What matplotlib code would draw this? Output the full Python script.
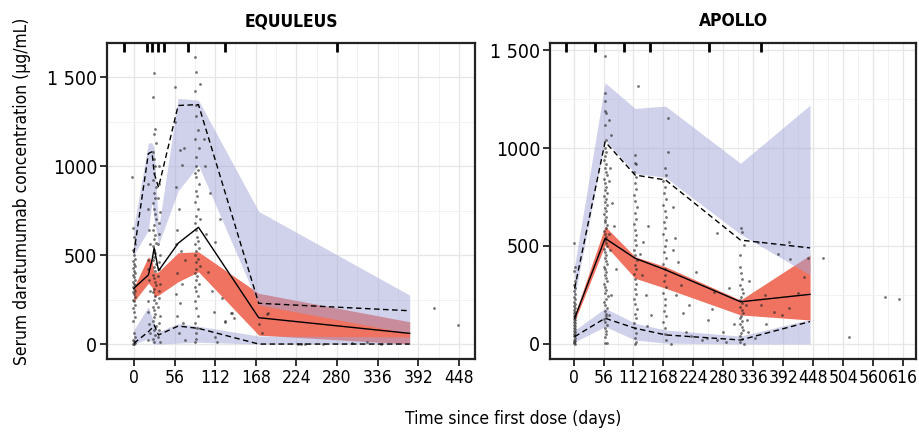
import numpy as np
import matplotlib
matplotlib.use("Agg")
import matplotlib.pyplot as plt
from matplotlib import font_manager as fm
from matplotlib.ticker import FixedLocator

# pick a condensed sans if one is installed, else Roboto, else DejaVu
narrow = None
for f in fm.fontManager.ttflist:
    if ('Narrow' in f.name or 'Condensed' in f.name
            or str(f.stretch) in ('condensed', 'semi-condensed')):
        if f.weight in (400, 'normal', 'regular', 'book'):
            narrow = f
            break
if narrow is not None:
    plt.rcParams['font.family'] = [narrow.name, 'DejaVu Sans']
    plt.rcParams['font.stretch'] = narrow.stretch
    FS_X, FS_Y, FS_LAB = 12.5, 14, 12.5
else:
    plt.rcParams['font.family'] = ['Roboto', 'DejaVu Sans']
    FS_X, FS_Y, FS_LAB = 11, 12.5, 12

# ---------------- EQUULEUS ----------------
eq_bins = [0, 20, 25, 28, 34, 61, 89, 172, 380]
eq_median = [313, 388, 472, 540, 412, 566, 656, 148, 60]
eq_p95 = [510, 1070, 1080, 960, 880, 1340, 1345, 229, 187]
eq_p05 = [4, 69, 90, 107, 51, 101, 88, 0, 0]
eq_med_lo = [238, 342, 320, 266, 275, 350, 406, 50, 0]
eq_med_hi = [318, 490, 470, 400, 406, 513, 518, 285, 125]
eq_hi_lo = [500, 640, 800, 700, 560, 860, 1005, 220, 60]
eq_hi_hi = [660, 1130, 1130, 1100, 650, 1380, 1370, 745, 275]
eq_lo_lo = [0, 30, 10, 0, 0, 5, 10, 0, 0]
eq_lo_hi = [80, 210, 150, 110, 70, 115, 100, 45, 40]
eq_doses = [-13, 18, 25, 33, 42, 74, 125, 280]

eq_obs_day = (
    [0, -1, 1, 0, -1, 1, 0, -1, 1, 0, -1, 1, 0, -1, 1, 0, -1, 1, 0, -1,
     1, 0, -1, 1, 0, -1, 1, 0, -1, 1, 0, -1, 1, 0, -1, 1, 0, -1, -3]
    + [19, 20, 21, 22, 19, 20, 21, 22, 19, 20, 21, 22, 20]
    + [28, 27, 29, 28, 30, 27, 28, 29, 28, 27, 30, 28, 29, 27, 28, 29, 30,
       28, 27, 29, 28, 30, 27, 28, 29, 28, 27, 30, 28, 29, 27, 28, 29, 30,
       28, 27, 29, 28, 30, 27, 28, 29, 28, 27, 30, 28, 29, 27, 28]
    + [34, 35, 33, 36, 34, 35, 33, 36, 34, 35, 33, 36, 34, 35, 33, 36, 34,
       35, 33, 36]
    + [56, 57, 63, 69, 66, 58, 62, 60, 58, 65, 70, 60, 66, 58, 64, 60, 68,
       62, 70]
    + [84, 85, 91, 84, 85, 86, 88, 84, 90, 86, 85, 88, 84, 86, 90, 85, 87,
       84, 88, 86, 91, 84, 85, 87, 89, 84, 90, 86, 84, 88, 85, 91, 86, 84,
       87, 85, 90, 84, 86, 88, 84, 85, 89, 84, 87, 85, 86, 84]
    + [96, 98, 105, 100, 102, 112, 108, 110, 112, 115, 118, 126, 125, 134,
       135, 138, 122]
    + [172, 176, 183, 185, 226, 230, 236, 321, 340, 413, 447, 300, 260]
)
eq_obs_conc = (
    [0, 3, 8, 15, 25, 40, 60, 130, 150, 180, 200, 220, 240, 250, 265, 280,
     290, 300, 310, 320, 330, 340, 350, 360, 375, 390, 400, 410, 425, 440,
     450, 465, 480, 500, 530, 560, 600, 650, 940]
    + [900, 760, 640, 560, 470, 420, 360, 300, 240, 180, 110, 60, 20]
    + [1520, 1390, 1210, 1180, 1130, 1080, 1040, 1000, 960, 920, 880, 850,
       820, 790, 760, 730, 700, 670, 640, 610, 590, 570, 550, 530, 510, 490,
       470, 450, 430, 410, 390, 370, 350, 330, 310, 290, 270, 250, 230, 210,
       190, 170, 150, 130, 100, 80, 50, 30, 10]
    + [1000, 900, 820, 740, 680, 620, 560, 500, 460, 420, 380, 340, 300,
       260, 210, 160, 120, 80, 40, 10]
    + [1445, 1245, 1090, 1100, 1005, 880, 760, 640, 560, 520, 470, 400, 340,
       280, 230, 160, 120, 60, 20]
    + [1614, 1530, 1460, 1420, 1343, 1280, 1200, 1150, 1100, 1050, 1000,
       980, 960, 940, 900, 860, 830, 800, 760, 720, 700, 680, 640, 600, 580,
       560, 540, 520, 500, 480, 460, 440, 420, 400, 380, 360, 340, 320, 300,
       270, 240, 200, 160, 120, 90, 60, 30, 10]
    + [1150, 1000, 850, 620, 406, 575, 300, 180, 40, 13, 700, 125, 131, 172,
       174, 146, 260]
    + [110, 60, 168, 174, 0, 0, 2, 13, 0, 200, 107, 5, 3]
)

# ---------------- APOLLO ----------------
ap_bins = [2, 59, 115, 172, 312, 442]
ap_median = [131, 539, 437, 378, 215, 253]
ap_p95 = [284, 1032, 862, 837, 530, 490]
ap_p05 = [37, 131, 80, 46, 20, 114]
ap_med_lo = [115, 505, 335, 284, 148, 122]
ap_med_hi = [148, 600, 445, 394, 224, 454]
ap_hi_lo = [240, 1041, 870, 850, 560, 352]
ap_hi_hi = [400, 1333, 1202, 1214, 922, 1219]
ap_lo_lo = [10, 88, 20, 4, 0, 0]
ap_lo_hi = [70, 182, 106, 71, 40, 125]
ap_doses = [-14, 41, 95, 142, 254, 351]

ap_obs_day = (
    [1, 2, 0, 3, 1, 2, 0, 3, 1, 2, 0, 3, 1, 2, 0, 3, 1, 2, 0, 3, 1, 2, 0,
     3, 1, 2, 0, 3, 1, 2, 0, 3, 1, 2, 0, 3, 1, 2, 0]
    + [58, 59, 58, 58, 60, 67, 59, 70, 61, 58, 60, 59, 57, 61, 58, 60, 62,
       57, 59, 61, 58, 63, 57, 60, 59, 62, 58, 60, 57, 61, 59, 58, 62, 60,
       57, 59, 61, 58, 60, 62, 57, 59, 61, 58, 60, 63, 57, 59, 61, 58, 60,
       62, 57, 59, 61, 58, 64, 60, 57, 59, 62, 58, 60, 61, 57, 59, 62, 58,
       60, 61, 59, 58, 62, 72, 75, 68, 80, 70, 66, 66, 68, 66]
    + [121, 114, 115, 116, 113, 117, 114, 116, 113, 115, 118, 114, 116, 113,
       115, 117, 114, 116, 113, 115, 118, 114, 116, 113, 115, 117, 114, 116,
       113, 115, 118, 114, 116, 113, 115, 117, 114, 116, 115, 125, 130, 128,
       140, 135, 145, 138]
    + [177, 177, 170, 172, 168, 171, 169, 172, 168, 170, 173, 169, 171, 168,
       172, 170, 169, 173, 168, 171, 170, 169, 172, 168, 171, 170, 169, 173,
       168, 171, 170, 172, 182, 186, 190, 195, 200, 205, 210, 185, 192]
    + [229, 269, 291, 251, 240, 263, 269, 280, 300, 220, 250, 285, 215, 258]
    + [313, 314, 318, 311, 311, 313, 315, 312, 314, 316, 313, 311, 315, 312,
       314, 316, 313, 311, 315, 312, 314, 316, 313, 311, 315, 312, 318, 322,
       324, 326, 328]
    + [358, 374, 402, 402, 382, 405, 430, 439, 466, 515, 582, 609, 340, 350,
       390, 420, 345, 360]
)
ap_obs_conc = (
    [514, 394, 370, 320, 300, 285, 270, 255, 240, 228, 215, 205, 195, 185,
     175, 165, 158, 150, 142, 135, 128, 120, 112, 105, 98, 90, 82, 75, 68,
     60, 52, 45, 38, 30, 22, 15, 8, 0, 3]
    + [1471, 1279, 1240, 1190, 1180, 1143, 1117, 1066, 1040, 1000, 980, 960,
       940, 920, 900, 880, 860, 840, 820, 800, 785, 770, 755, 740, 725, 710,
       695, 680, 665, 650, 635, 620, 605, 590, 575, 560, 545, 530, 515, 500,
       485, 470, 455, 440, 425, 410, 395, 380, 365, 350, 335, 320, 305, 290,
       275, 260, 245, 230, 215, 200, 185, 170, 155, 140, 125, 110, 95, 80,
       65, 50, 35, 5, 3, 720, 600, 480, 380, 250, 150, 830, 900, 560]
    + [1316, 964, 925, 920, 880, 850, 820, 790, 760, 730, 700, 670, 640, 610,
       580, 555, 530, 505, 480, 455, 430, 405, 380, 355, 330, 305, 280, 255,
       230, 205, 180, 155, 130, 105, 80, 55, 30, 10, 0, 460, 520, 350, 600,
       250, 150, 90]
    + [1155, 981, 900, 860, 830, 800, 770, 740, 710, 680, 650, 620, 590, 560,
       530, 500, 470, 440, 410, 380, 350, 320, 290, 260, 230, 200, 170, 140,
       110, 80, 50, 20, 0, 700, 540, 420, 300, 160, 60, 480, 250]
    + [369, 565, 284, 122, 20, 267, 20, 60, 100, 40, 30, 10, 200, 180]
    + [590, 570, 505, 454, 394, 360, 330, 300, 280, 260, 240, 225, 210, 190,
       175, 160, 145, 130, 115, 100, 85, 70, 55, 40, 25, 10, 0, 200, 120, 60,
       320]
    + [250, 165, 182, 522, 459, 432, 343, 437, 437, 37, 241, 230, 30, 200,
       150, 260, 520, 100]
)

RED = '#EF7360'
BLUE = '#A3A6D8'


def draw_panel(ax, bins, med, p95, p05, mlo, mhi, hlo, hhi, llo, lhi,
               days, conc, doses, xmax_ticks, xlim, ylim, title):
    ax.fill_between(bins, mlo, mhi, color=RED, lw=0, zorder=1)
    ax.fill_between(bins, hlo, hhi, color=BLUE, alpha=0.5, lw=0, zorder=1.5)
    ax.fill_between(bins, llo, lhi, color=BLUE, alpha=0.5, lw=0, zorder=1.5)
    ax.scatter(days, conc, s=4, color='#2a2a2a', alpha=0.65, lw=0, zorder=2)
    ax.plot(bins, med, color='black', lw=1.0, zorder=3)
    ax.plot(bins, p95, color='black', lw=1.0, ls=(0, (4, 2.5)), zorder=3)
    ax.plot(bins, p05, color='black', lw=1.0, ls=(0, (4, 2.5)), zorder=3)
    ax.vlines(doses, 0.972, 1.0, transform=ax.get_xaxis_transform(),
              color='black', lw=2, zorder=4, clip_on=False)

    ax.set_xlim(*xlim)
    ax.set_ylim(*ylim)
    xt = np.arange(0, xmax_ticks + 1, 56)
    ax.xaxis.set_major_locator(FixedLocator(xt))
    ax.xaxis.set_minor_locator(FixedLocator(xt[:-1] + 28))
    ax.yaxis.set_major_locator(FixedLocator([0, 500, 1000, 1500]))
    ax.yaxis.set_minor_locator(FixedLocator([250, 750, 1250]))
    ax.set_yticklabels(['0', '500', '1000', '1 500'])
    ax.grid(which='major', color='#E6E6E6', lw=0.9)
    ax.grid(which='minor', color='#F0F0F0', lw=0.6)
    ax.set_axisbelow(True)
    ax.tick_params(which='major', length=5, width=1.3, color='#222222',
                   pad=2)
    ax.tick_params(axis='x', labelsize=FS_X)
    ax.tick_params(axis='y', labelsize=FS_Y)
    ax.tick_params(which='minor', length=0)
    for sp in ax.spines.values():
        sp.set_linewidth(1.6)
        sp.set_color('#222222')
    ax.set_title(title, fontsize=12.5, fontweight='bold', pad=12)


fig = plt.figure(figsize=(9.2, 4.32), dpi=100)
ax1 = fig.add_axes([107 / 920, 73 / 432, 368 / 920, 316 / 432])
ax2 = fig.add_axes([550 / 920, 73 / 432, 366 / 920, 316 / 432])

draw_panel(ax1, eq_bins, eq_median, eq_p95, eq_p05, eq_med_lo, eq_med_hi,
           eq_hi_lo, eq_hi_hi, eq_lo_lo, eq_lo_hi, eq_obs_day, eq_obs_conc,
           eq_doses, 448, (-37, 470), (-84, 1691), 'EQUULEUS')
draw_panel(ax2, ap_bins, ap_median, ap_p95, ap_p05, ap_med_lo, ap_med_hi,
           ap_hi_lo, ap_hi_hi, ap_lo_lo, ap_lo_hi, ap_obs_day, ap_obs_conc,
           ap_doses, 616, (-44, 640), (-77, 1536), 'APOLLO')

fig.text(22 / 920, 1 - 191 / 432, 'Serum daratumumab concentration (μg/mL)',
         rotation=90, ha='center', va='center', fontsize=FS_LAB)
fig.text(513 / 920, 1 - 419 / 432, 'Time since first dose (days)',
         ha='center', va='center', fontsize=FS_LAB)

fig.savefig('out.png', dpi=100)
